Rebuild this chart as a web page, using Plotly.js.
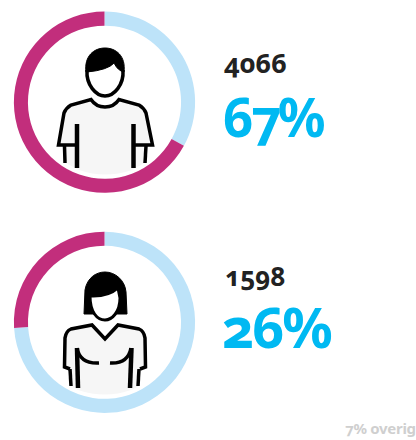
<!DOCTYPE html>
<html><head><meta charset="utf-8">
<script src="https://cdn.plot.ly/plotly-3.0.1.min.js"></script>
<style>
html,body{margin:0;padding:0;background:#fff;overflow:hidden}
#c{width:416px;height:440px}
text{font-feature-settings:"onum" 1;font-variant-numeric:oldstyle-nums}
</style></head><body><div id="c"></div>
<script>
const groups = ["Mannen", "Vrouwen"];
const sliceLabels = ["Rest", "Deel"];
const menShares = [33, 67];
const womenShares = [74, 26];
const counts = ["4066", "1598"];
const percents = ["67%", "26%"];
const otherLabel = "7% overig";
const sliceColors = ["#bde3f9", "#c22e7c"];

const W = 416, H = 440;
const dom = (cx, cy, r) => ({x:[(cx-r)/W,(cx+r)/W], y:[1-(cy+r)/H,1-(cy-r)/H]});
const pie = (vals, d, name) => ({type:"pie", name, labels:sliceLabels, values:vals, sort:false, direction:"clockwise", rotation:0,
  hole:0.845, textinfo:"none", hoverinfo:"none", domain:d, marker:{colors:sliceColors, line:{width:0}}, showlegend:false});
const data = [
  pie(menShares, dom(104.5,102.2,90.6), groups[0]),
  pie(womenShares, dom(104.5,322.3,90.6), groups[1]),
  {type:"scatter", x:[0], y:[0], mode:"markers", marker:{opacity:0}, hoverinfo:"skip", showlegend:false}
];
const sh = (path, fill, lw) => ({type:"path", xref:"x", yref:"y", layer:"above", path,
  fillcolor: fill || "rgba(0,0,0,0)", line:{color:"#000", width:lw||0}});
const grey = "#f6f6f6";
const shapes = [
  // man
  {...sh("M64,113 Q66,108 71,105 L91,99.5 Q96,107 105,107 Q114,107 119,99.5 L139,105 Q144,108 146,113 L152,145 L147,146 L146,162 L132,170 Q105,179 79,170 L64,162 L63,146 L58,145 Z", grey), line:{width:0}},
  sh("M77,145 L58.5,145 L64,113 Q66,108 71,105 L91,99.5 Q96,107 105,107 Q114,107 119,99.5 L139,105 Q144,108 146,113 L152.5,145 L135,145","",3.5),
  sh("M77,124 L77,168","",4.5), sh("M133.5,124 L133.5,168","",4.5),
  sh("M64.5,146 L65,163","",3.5), sh("M146,146 L145,163","",3.5),
  sh("M87,70 C86,85 96,96 105,96 C114,96 124,85 123,70","#fff",3.5),
  sh("M86,72 C84,56 94,48 105,48 C116,48 126,56 124,72 Q118,71 114,63 Q108,70 87,72 Z","#000",1),
  // woman
  {...sh("M71,329 L92,325 L105,339 L118,325 L139,329 Q144,331 145,338 L146,367 L141,369 L139,386 L131,390 Q105,399 78,390 L70,385 L68,369 L64,367 L65,338 Q66,331 71,329 Z", grey), line:{width:0}},
  sh("M70,369 L64.5,367 L65,338 Q66,331 71,329 L92,325 L105,339 L118,325 L139,329 Q144,331 145,338 L145.5,367 L140,369","",3.5),
  sh("M77,348 L78,388","",4.5), sh("M131.5,348 L130,388","",4.5),
  sh("M70,369 L71,386","",3.5), sh("M139,369 L138,386","",3.5),
  sh("M77,348 Q80,364 99,363","",3.5), sh("M131,348 Q128,364 110,363","",3.5),
  sh("M84,314 L85,290 C87,278 96,272 105,272 C115,272 125,280 126,292 L127,314 Z","#000",1),
  sh("M90,296 Q108,297 118,288 L120,298 C120,312 112,320 105,320 C97,320 90,312 90,296 Z","#fff",3)
];
const note = (text,x,y,size,color,spacing) => ({text:spacing?`<span style="letter-spacing:${spacing}px">${text}</span>`:text,x,y,xref:"x",yref:"y",xanchor:"left",yanchor:"middle",showarrow:false,
  font:{family:"Noto Sans, Lato, sans-serif",size,color,weight:700}});
const annotations = [
  note(counts[0],222,62,27,"#222"),
  note(percents[0],221,116,53,"#00b9f2",-3.5),
  note(counts[1],223,276,26,"#222"),
  note(percents[1],220,326,56,"#00b9f2",-2.5),
  note(otherLabel,343,428,15,"#cfcfcf",-0.3)
];
Plotly.newPlot("c", data, {
  width:W, height:H, margin:{l:0,r:0,t:0,b:0}, paper_bgcolor:"#fff", plot_bgcolor:"rgba(0,0,0,0)", showlegend:false,
  xaxis:{range:[0,W],visible:false,fixedrange:true},
  yaxis:{range:[H,0],visible:false,fixedrange:true},
  shapes, annotations
}, {displayModeBar:false, staticPlot:true});
</script></body></html>
